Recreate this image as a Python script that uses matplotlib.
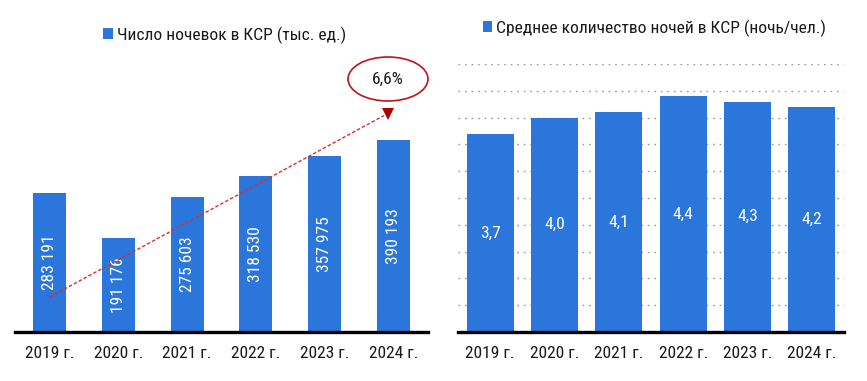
import matplotlib
matplotlib.use("Agg")
import matplotlib.pyplot as plt
from matplotlib.patches import Ellipse, Patch

plt.rcParams['font.family'] = ['Roboto Condensed', 'DejaVu Sans']

years = ["2019 г.", "2020 г.", "2021 г.", "2022 г.", "2023 г.", "2024 г."]
stays = [283191, 191176, 275603, 318530, 357975, 390193]
stay_labels = ["283 191", "191 176", "275 603", "318 530", "357 975", "390 193"]
nights = [3.7, 4.0, 4.1, 4.4, 4.3, 4.2]
night_labels = ["3,7", "4,0", "4,1", "4,4", "4,3", "4,2"]
growth_label = "6,6%"
legend_left = "Число ночевок в КСР (тыс. ед.)"
legend_right = "Среднее количество ночей в КСР (ночь/чел.)"

BLUE = "#2A76DB"
TXT = "#1A1A1A"
FS = 12.6

W, H = 867, 381
fig = plt.figure(figsize=(W / 100, H / 100), dpi=100)

def ax_rect(x0, x1, ytop, ybot):
    return [x0 / W, 1 - ybot / H, (x1 - x0) / W, (ybot - ytop) / H]

ax1 = fig.add_axes(ax_rect(15, 428, 64, 332))
ax2 = fig.add_axes(ax_rect(458, 844, 64, 332))

x = list(range(len(years)))

# Left chart
ax1.bar(x, stays, width=0.48, color=BLUE, zorder=3)
ax1.set_xlim(-0.5, 5.5)
ax1.set_ylim(0, 546000)
for xi, v, lab in zip(x, stays, stay_labels):
    ax1.text(xi, v / 2, lab, rotation=90, ha='center', va='center',
             color='white', fontsize=FS, zorder=4)

# Right chart
ax2.bar(x, nights, width=0.73, color=BLUE, zorder=3)
ax2.set_xlim(-0.5, 5.5)
ax2.set_ylim(0, 5.0)
ax2.set_yticks([i * 0.5 for i in range(11)])
ax2.grid(axis='y', color='#9A9A9A', linestyle=(0, (1.2, 3.5)), linewidth=1.0, zorder=1)
for xi, v, lab in zip(x, nights, night_labels):
    ax2.text(xi, v / 2, lab, ha='center', va='center', color='white',
             fontsize=FS, zorder=4)

for ax in (ax1, ax2):
    for s in ('top', 'left', 'right'):
        ax.spines[s].set_visible(False)
    ax.spines['bottom'].set_linewidth(2.4)
    ax.spines['bottom'].set_color('black')
    ax.spines['bottom'].set_zorder(5)
    ax.set_xticks(x)
    ax.set_xticklabels(years, fontsize=FS, color=TXT)
    ax.tick_params(axis='x', length=0, pad=10)
    ax.tick_params(axis='y', left=False, labelleft=False)
    ax.set_facecolor('none')

# Trend arrow (left): dashed line ending in a downward triangle head
start = (0.0, stays[0] / 4)
end = (4.86, 441000)
head = (4.92, 445000)
ax1.plot([start[0], end[0]], [start[1], end[1]], color='#D9302C', lw=1.0,
         linestyle=(0, (2.5, 1.5)), zorder=6, clip_on=False)
ax1.plot([head[0]], [head[1]], marker='v', markersize=9, color='#B00000',
         markeredgewidth=0, zorder=7, clip_on=False)

# Growth ellipse
fig.add_artist(Ellipse((388 / W, 1 - 79 / H), 80 / W, 44 / H,
                       transform=fig.transFigure, fill=False,
                       edgecolor='#C0141C', lw=1.2))
fig.text(388 / W, 1 - 79 / H, growth_label, ha='center', va='center',
         fontsize=FS, color=TXT)

# Legends
for ax, lab, cx, cy in ((ax1, legend_left, 224.5, 35), (ax2, legend_right, 654.5, 28)):
    leg = fig.legend(handles=[Patch(facecolor=BLUE, edgecolor='none', label=lab)],
                     loc='center', bbox_to_anchor=(cx / W, 1 - cy / H),
                     bbox_transform=fig.transFigure, frameon=False,
                     fontsize=FS, handlelength=0.55, handleheight=0.55,
                     handletextpad=0.25, borderpad=0, borderaxespad=0)
    for t in leg.get_texts():
        t.set_color(TXT)

fig.savefig("out.png", dpi=100)
